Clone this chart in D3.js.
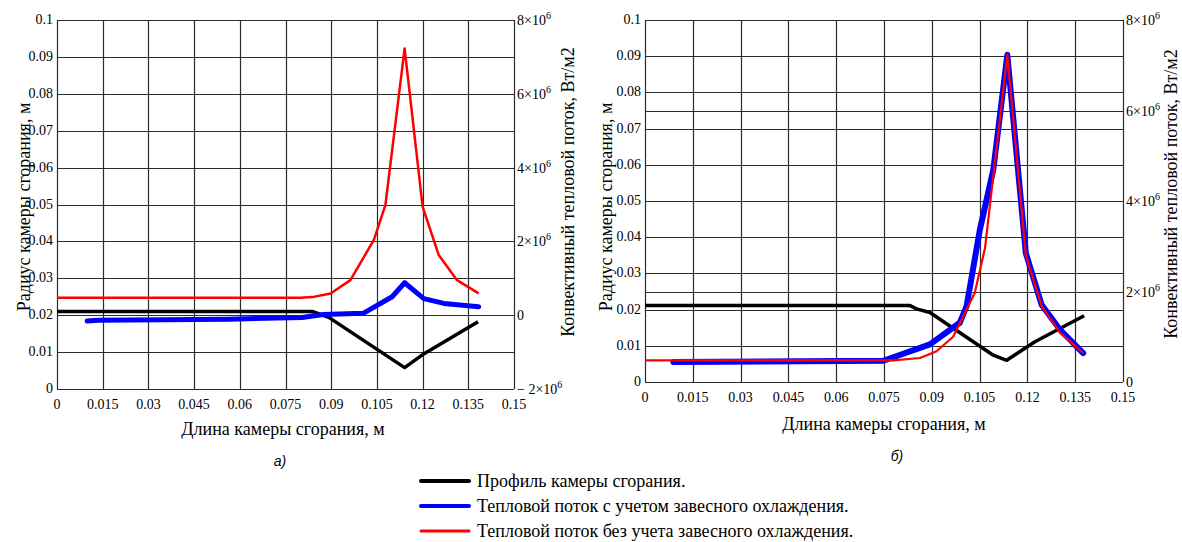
<!DOCTYPE html>
<html>
<head>
<meta charset="utf-8">
<script src="https://cdn.jsdelivr.net/npm/d3@7"></script>
</head>
<body style="margin:0">
<svg id="chart" width="1182" height="542" style="font-family: serif"></svg>
<script>
// ---- data ----
var xTicks = [0, 0.015, 0.03, 0.045, 0.06, 0.075, 0.09, 0.105, 0.12, 0.135, 0.15];
var rTicks = [0, 0.01, 0.02, 0.03, 0.04, 0.05, 0.06, 0.07, 0.08, 0.09, 0.1];
var fluxTicksA = [-2e6, 0, 2e6, 4e6, 6e6, 8e6];
var fluxTicksB = [0, 2e6, 4e6, 6e6, 8e6];

// chart a)
var profileXA = [0, 0.0838, 0.0892, 0.1141, 0.1198, 0.1382];
var profileRA = [0.021, 0.021, 0.0194, 0.0058, 0.0092, 0.0182];
var blueXA = [0.0099, 0.0136, 0.0563, 0.0805, 0.0874, 0.1005, 0.110, 0.1141, 0.1204, 0.127, 0.1384];
var blueFA = [-0.16e6, -0.14e6, -0.11e6, -0.06e6, 0.02e6, 0.05e6, 0.5e6, 0.88e6, 0.45e6, 0.32e6, 0.23e6];
var redXA = [0, 0.0799, 0.0838, 0.0898, 0.0963, 0.104, 0.1078, 0.1141, 0.12, 0.1253, 0.1313, 0.1384];
var redFA = [0.47e6, 0.47e6, 0.49e6, 0.59e6, 0.95e6, 2.04e6, 2.99e6, 7.23e6, 2.94e6, 1.63e6, 0.95e6, 0.59e6];

// chart б)
var profileXB = [0, 0.0832, 0.0852, 0.0894, 0.1093, 0.1135, 0.1225, 0.1378];
var profileRB = [0.0211, 0.0211, 0.0202, 0.0192, 0.0074, 0.006, 0.0112, 0.0183];
var blueXB = [0.0089, 0.0748, 0.0894, 0.0988, 0.1009, 0.1051, 0.1093, 0.1137, 0.1195, 0.1245, 0.1302, 0.1375];
var blueFB = [0.44e6, 0.47e6, 0.83e6, 1.31e6, 1.67e6, 3.37e6, 4.69e6, 7.23e6, 2.85e6, 1.7e6, 1.16e6, 0.64e6];
var redXB = [0, 0.078, 0.0863, 0.0915, 0.0967, 0.1035, 0.1067, 0.1088, 0.1137, 0.1195, 0.1245, 0.1302, 0.1375];
var redFB = [0.48e6, 0.48e6, 0.53e6, 0.68e6, 1.0e6, 1.97e6, 2.96e6, 4.25e6, 7.23e6, 2.8e6, 1.67e6, 1.09e6, 0.64e6];

var legendLabels = [
  "Профиль камеры сгорания.",
  "Тепловой поток с учетом завесного охлаждения.",
  "Тепловой поток без учета завесного охлаждения."
];

var svg = d3.select("#chart");
var SERIF = "Liberation Serif, Tinos, FreeSerif, serif";

function zip(xs, ys) {
  return xs.map(function (x, i) { return [x, ys[i]]; });
}

function fmtX(d) {
  return d === 0 ? "0" : String(+d.toFixed(3));
}

// texts go straight under the svg, each with its own font
function addTexts(data, cls, size) {
  return svg.selectAll("text." + cls).data(data).enter().append("text")
    .attr("class", cls)
    .attr("font-size", size)
    .attr("font-family", SERIF)
    .style("font-family", SERIF);
}

function drawPanel(opt) {
  var x = d3.scaleLinear().domain([0, 0.15]).range([opt.left, opt.right]);
  var y = d3.scaleLinear().domain([0, 0.1]).range([opt.bottom, opt.top]);
  var yF = d3.scaleLinear().domain(opt.fluxDomain).range([opt.bottom, opt.top]);
  var p = opt.id;

  var g = svg.append("g");

  // grid
  function gl(sel) { return sel.attr("stroke", "#2b2b2b").attr("stroke-width", 1.2); }
  gl(g.selectAll("line.v").data(xTicks).enter().append("line"))
    .attr("x1", function (d) { return Math.round(x(d)) + 0.5; })
    .attr("x2", function (d) { return Math.round(x(d)) + 0.5; })
    .attr("y1", opt.top).attr("y2", opt.bottom);
  gl(g.selectAll("line.h").data(rTicks).enter().append("line"))
    .attr("y1", function (d) { return Math.round(y(d)) + 0.5; })
    .attr("y2", function (d) { return Math.round(y(d)) + 0.5; })
    .attr("x1", opt.left).attr("x2", opt.right);
  gl(g.selectAll("line.f").data(opt.fluxTicks).enter().append("line"))
    .attr("y1", function (d) { return Math.round(yF(d)) + 0.5; })
    .attr("y2", function (d) { return Math.round(yF(d)) + 0.5; })
    .attr("x1", opt.left).attr("x2", opt.right);

  var lineR = d3.line().x(function (d) { return x(d[0]); }).y(function (d) { return y(d[1]); });
  var lineF = d3.line().x(function (d) { return x(d[0]); }).y(function (d) { return yF(d[1]); });

  g.append("path").datum(opt.profile).attr("d", lineR)
    .attr("fill", "none").attr("stroke", "#000").attr("stroke-width", 3.5)
    .attr("stroke-linejoin", "round");
  g.append("path").datum(opt.blue).attr("d", lineF)
    .attr("fill", "none").attr("stroke", "#0000ff").attr("stroke-width", opt.blueW)
    .attr("stroke-linejoin", "round").attr("stroke-linecap", "round");
  g.append("path").datum(opt.red).attr("d", lineF)
    .attr("fill", "none").attr("stroke", "#ff0000").attr("stroke-width", opt.redW)
    .attr("stroke-linejoin", "round");

  // left ticks
  addTexts(rTicks, p + "yl", 14)
    .attr("x", opt.left - 4).attr("y", function (d) { return y(d) + 4; })
    .attr("text-anchor", "end")
    .text(function (d) { return d === 0 ? "0" : String(+d.toFixed(2)); });

  // bottom ticks
  addTexts(xTicks, p + "xl", 14)
    .attr("x", function (d) { return x(d); }).attr("y", opt.bottom + 20)
    .attr("text-anchor", "middle")
    .text(fmtX);

  // right ticks with superscript
  var rt = addTexts(opt.fluxTicks, p + "yr", 14)
    .attr("x", opt.right + 3).attr("y", function (d) { return yF(d) + 5; });
  rt.each(function (d) {
    var t = d3.select(this);
    if (d === 0) { t.text("0"); return; }
    var m = d / 1e6;
    t.append("tspan").text((m < 0 ? "\u2212 " + (-m) : m) + "\u00d710");
    t.append("tspan").attr("dy", -6).attr("font-size", 10).text("6");
  });

  // axis titles
  addTexts(["Длина камеры сгорания, м"], p + "xt", 18)
    .attr("x", opt.xTitleX).attr("y", opt.xTitleY)
    .attr("text-anchor", "middle")
    .text(function (d) { return d; });
  addTexts(["Радиус камеры сгорания, м"], p + "lt", 18)
    .attr("transform", "translate(" + opt.lTitleX + "," + opt.lTitleY + ") rotate(-90)")
    .attr("text-anchor", "middle")
    .text(function (d) { return d; });
  addTexts(["Конвективный тепловой поток, Вт/м2"], p + "rt", 18)
    .attr("transform", "translate(" + opt.rTitleX + "," + opt.rTitleY + ") rotate(-90)")
    .attr("text-anchor", "middle")
    .text(function (d) { return d; });

  svg.append("text")
    .attr("x", opt.capX).attr("y", opt.capY)
    .attr("text-anchor", "middle")
    .style("font-family", "Liberation Sans").style("font-style", "italic")
    .attr("font-size", 14)
    .text(opt.caption);
}

drawPanel({
  id: "a", left: 57, right: 514, top: 20, bottom: 389,
  fluxDomain: [-2e6, 8e6], fluxTicks: fluxTicksA,
  profile: zip(profileXA, profileRA), blue: zip(blueXA, blueFA), red: zip(redXA, redFA),
  blueW: 5, redW: 2.5,
  xTitleX: 283, xTitleY: 435, lTitleX: 30, lTitleY: 207, rTitleX: 574, rTitleY: 192,
  capX: 280, capY: 466, caption: "а)"
});

drawPanel({
  id: "b", left: 645, right: 1123, top: 20, bottom: 382,
  fluxDomain: [0, 8e6], fluxTicks: fluxTicksB,
  profile: zip(profileXB, profileRB), blue: zip(blueXB, blueFB), red: zip(redXB, redFB),
  blueW: 6, redW: 2.2,
  xTitleX: 884, xTitleY: 430, lTitleX: 612, lTitleY: 207, rTitleX: 1177, rTitleY: 194,
  capX: 897, capY: 461, caption: "б)"
});

// legend
var legendColors = ["#000", "#0000ff", "#ff0000"];
var legendWidths = [4, 4, 3];
var legendY = d3.scalePoint().domain(d3.range(3)).range([481, 531]);
svg.selectAll("line.leg").data(legendLabels).enter().append("line")
  .attr("class", "leg")
  .attr("x1", 421).attr("x2", 469)
  .attr("y1", function (d, i) { return legendY(i); })
  .attr("y2", function (d, i) { return legendY(i); })
  .attr("stroke", function (d, i) { return legendColors[i]; })
  .attr("stroke-width", function (d, i) { return legendWidths[i]; })
  .attr("stroke-linecap", "round");
addTexts(legendLabels, "legt", 18)
  .attr("x", 477).attr("y", function (d, i) { return legendY(i) + 6; })
  .text(function (d) { return d; });
</script>
</body>
</html>
